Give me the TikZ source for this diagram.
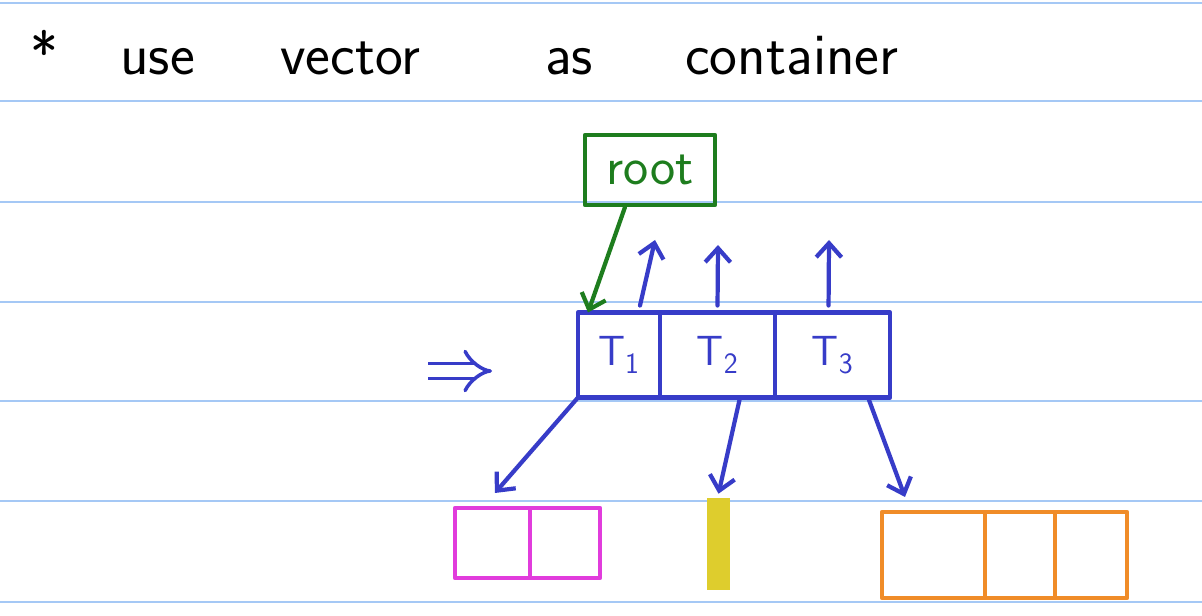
\documentclass[tikz,border=0pt]{standalone}
\usepackage{fontspec}
\usetikzlibrary{positioning,arrows.meta}
\definecolor{penblue}{RGB}{55,60,200}
\definecolor{pengreen}{RGB}{30,125,30}
\definecolor{penmagenta}{RGB}{225,60,220}
\definecolor{penyellow}{RGB}{222,205,45}
\definecolor{penorange}{RGB}{240,140,40}
\definecolor{rulecolor}{RGB}{165,200,245}
\tikzset{
  pen/.style={line width=3pt, line cap=round, line join=round},
  tip/.style={-{Straight Barb[length=10pt,width=18pt,line width=3pt]}},
  word/.style={inner sep=0pt, anchor=base west, font=\fontsize{42}{46}\selectfont\sffamily},
  cellbox/.style={draw=penblue, pen, text=penblue, inner sep=0pt, outer sep=0pt,
    minimum height=2.125cm, font=\fontsize{30}{34}\selectfont\sffamily},
  magbox/.style={draw=penmagenta, pen, inner sep=0pt, outer sep=0pt, minimum height=1.75cm},
  orbox/.style={draw=penorange, pen, inner sep=0pt, outer sep=0pt, minimum height=2.15cm},
}
\begin{document}
\begin{tikzpicture}[x=0.025cm, y=-0.025cm]
\useasboundingbox[fill=white] (0,0) rectangle (1202,616);
% ruled paper
\foreach \ry in {3,101,202,302,401,501,602}
  \draw[rulecolor, line width=1.8pt] (0,\ry) -- (1202,\ry);
% title line
\node[word] (star) at (30,75) {*};
\node[word] (use) at (120,75) {use};
\node[word] (vec) at (280,75) {vector};
\node[word] (as) at (545,75) {as};
\node[word] (cont) at (685,75) {container};
% root
\node[draw=pengreen, pen, text=pengreen, minimum width=3.25cm, minimum height=1.75cm,
  inner sep=0pt, font=\fontsize{38}{40}\selectfont\sffamily] (root) at (650,170) {root};
% vector of trees
\node[cellbox, minimum width=2.05cm] (cell1) at (619,355) {T\textsubscript{1}};
\node[cellbox, minimum width=2.875cm, right=0pt of cell1] (cell2) {T\textsubscript{2}};
\node[cellbox, minimum width=2.875cm, right=0pt of cell2] (cell3) {T\textsubscript{3}};
\draw[pengreen, pen, tip] ([xshift=-0.625cm]root.south) -- ([xshift=0.25cm]cell1.north west);
% parent pointers
\coordinate (up1) at (655,240);
\coordinate (up2) at (718,245);
\coordinate (up3) at (829,240);
\draw[penblue, pen, tip] ([xshift=0.525cm, yshift=0.175cm]cell1.north) -- (up1);
\draw[penblue, pen, tip] ([yshift=0.175cm]cell2.north) -- (up2);
\draw[penblue, pen, tip] ([xshift=-0.1cm, yshift=0.175cm]cell3.north) -- (up3);
% implies
\coordinate (dblA) at (428,371);
\coordinate (dblB) at (492,371);
\draw[penblue, line width=2.5pt, double distance=8pt, -{Implies}] (dblA) -- (dblB);
% children
\node[magbox, minimum width=1.875cm] (mag1) at (492.5,543) {};
\node[magbox, minimum width=1.75cm, right=0pt of mag1] (mag2) {};
\node[fill=penyellow, minimum width=0.575cm, minimum height=2.3cm, inner sep=0pt] (yel) at (718.5,544) {};
\node[orbox, minimum width=2.575cm] (or1) at (933.5,555) {};
\node[orbox, minimum width=1.75cm, right=0pt of or1] (or2) {};
\node[orbox, minimum width=1.8cm, right=0pt of or2] (or3) {};
\draw[penblue, pen, tip] (cell1.south west) -- ([xshift=0.06cm, yshift=0.375cm]mag1.north);
\draw[penblue, pen, tip] ([xshift=0.5625cm]cell2.south) -- ([yshift=0.1cm]yel.north);
\draw[penblue, pen, tip] ([xshift=-0.55cm]cell3.south east) -- ([xshift=0.575cm, yshift=0.375cm]or1.north west);
\end{tikzpicture}
\end{document}
